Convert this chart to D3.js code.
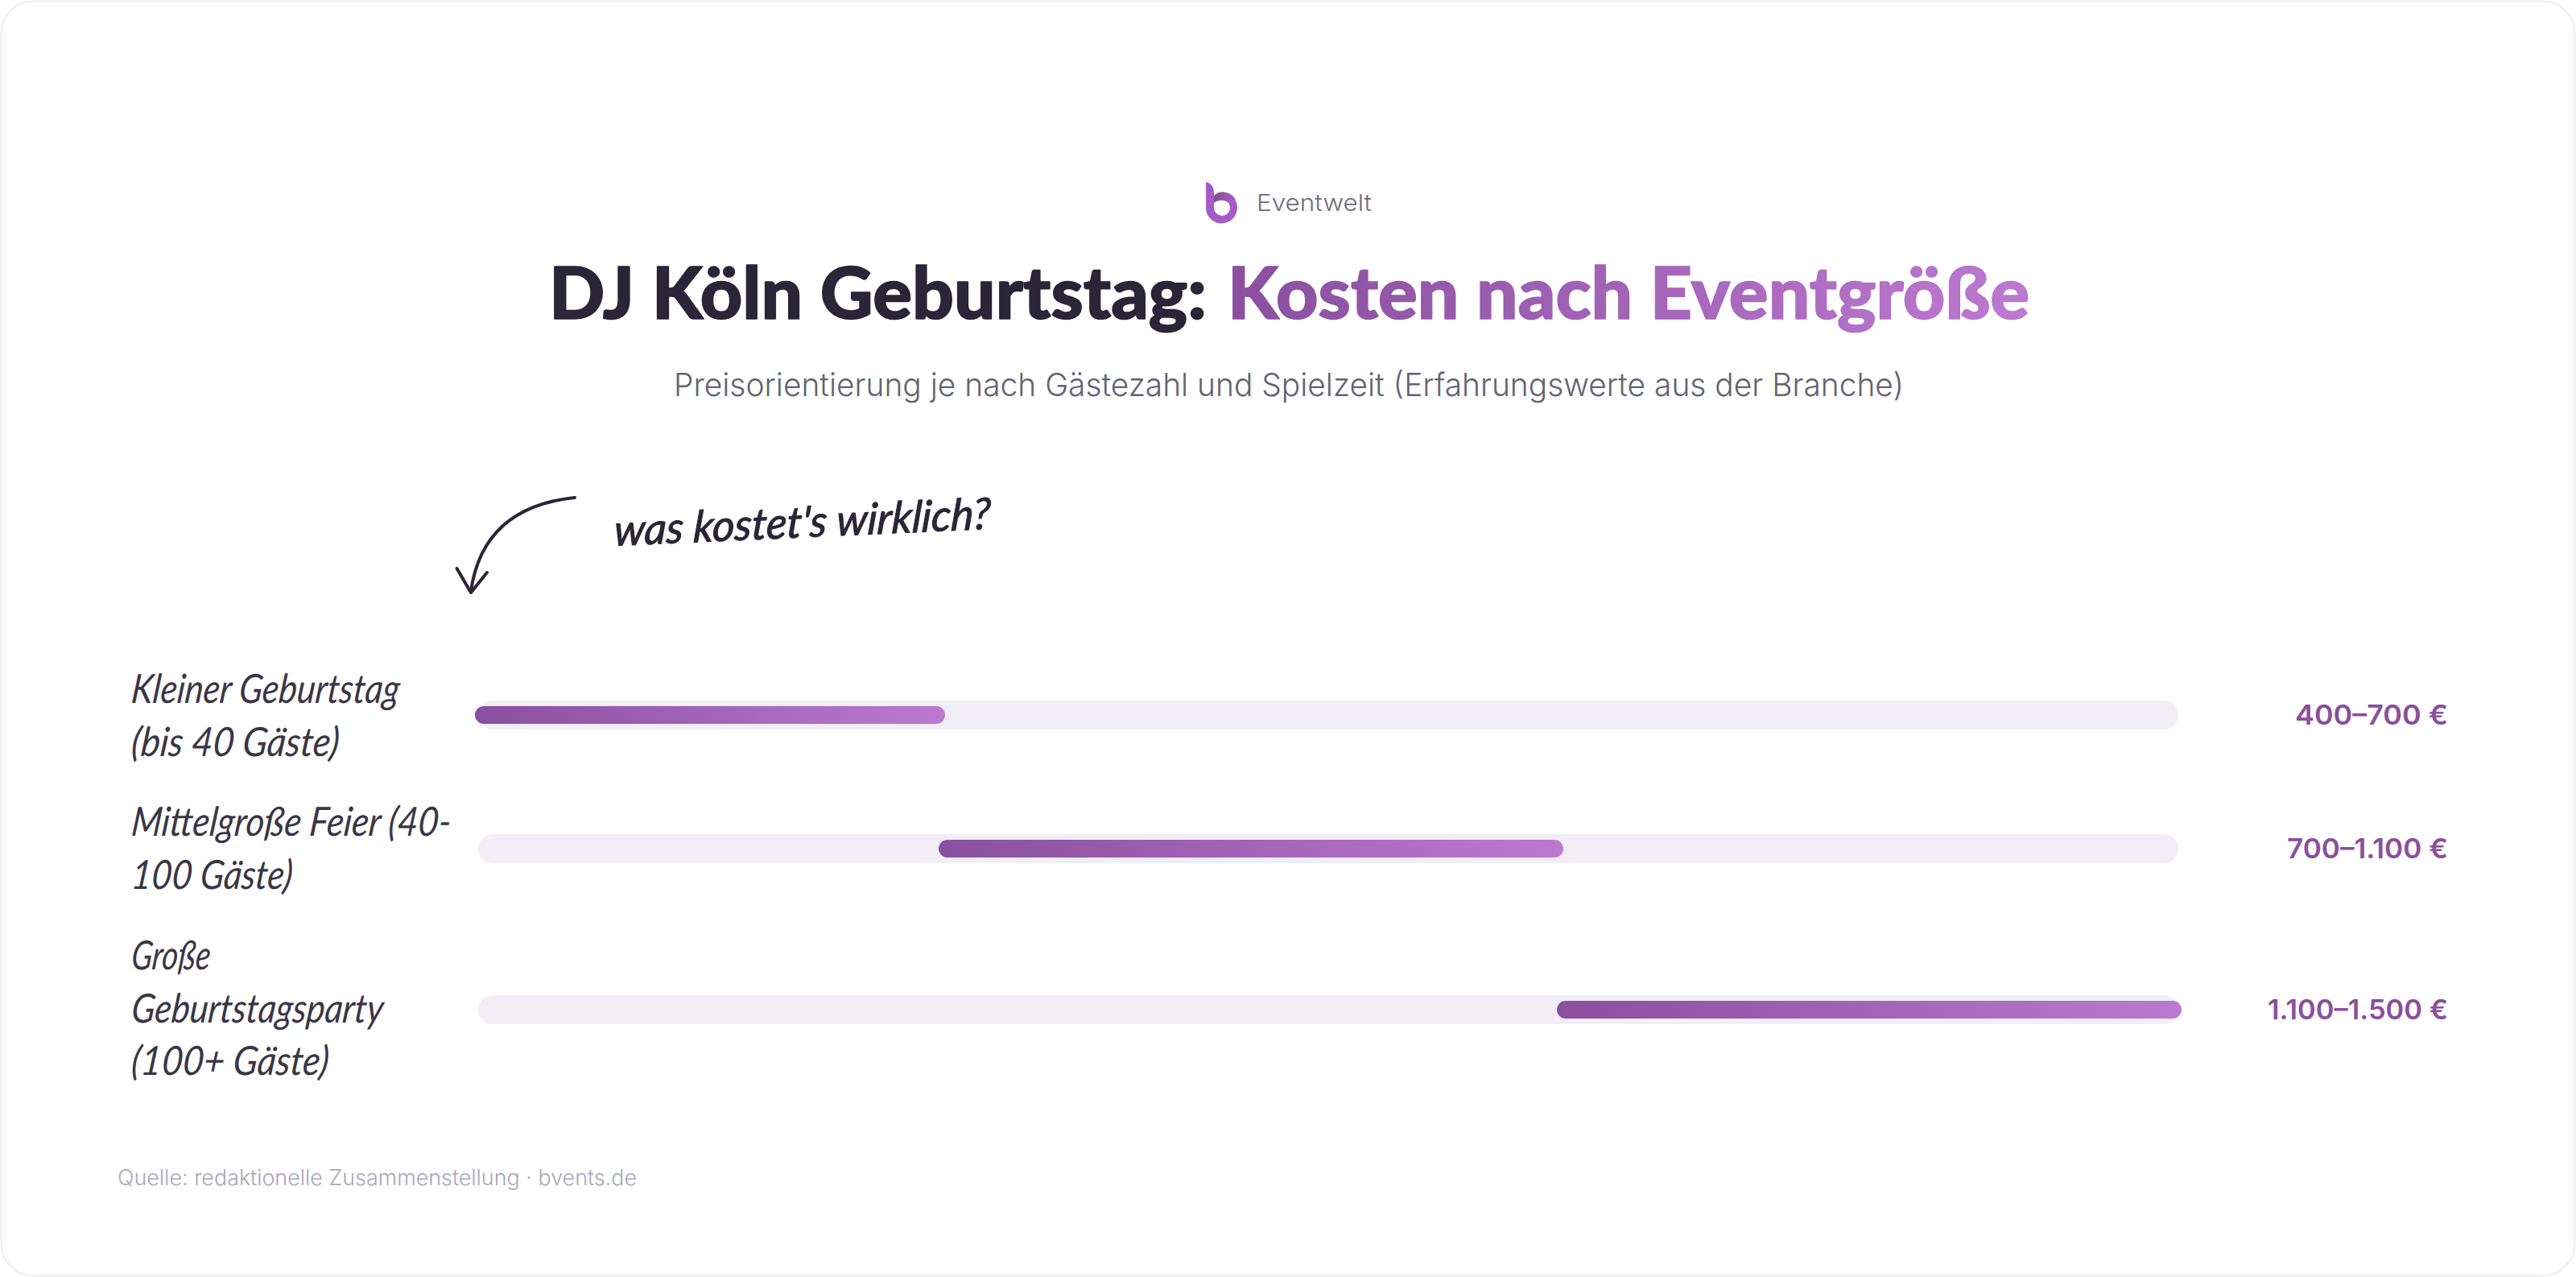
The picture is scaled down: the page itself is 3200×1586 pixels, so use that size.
<!DOCTYPE html>
<html lang="de"><head><meta charset="utf-8">
<script src="https://cdn.jsdelivr.net/npm/d3@7/dist/d3.min.js"></script>
<style>html,body{margin:0;padding:0;background:#fff}svg{display:block}</style>
</head><body><svg id="c"></svg>
<script>
// ---- data ----
const categories = ["Kleiner Geburtstag (bis 40 Gäste)", "Mittelgroße Feier (40-100 Gäste)", "Große Geburtstagsparty (100+ Gäste)"];
const categoryLines = [["Kleiner Geburtstag", "(bis 40 Gäste)"], ["Mittelgroße Feier (40-", "100 Gäste)"], ["Große", "Geburtstagsparty", "(100+ Gäste)"]];
const lowValues = [400, 700, 1100];
const highValues = [700, 1100, 1500];
const valueLabels = ["400–700 €", "700–1.100 €", "1.100–1.500 €"];
const titleDark = "DJ Köln Geburtstag:";
const titleAccent = "Kosten nach Eventgröße";
const subtitle = "Preisorientierung je nach Gästezahl und Spielzeit (Erfahrungswerte aus der Branche)";
const brand = "Eventwelt";
const note = "was kostet's wirklich?";
const source = "Quelle: redaktionelle Zusammenstellung · bvents.de";

// ---- layout ----
const W = 3200, H = 1586;
const hand = "Lato, 'Noto Sans', sans-serif", sans = "Inter, 'Noto Sans', sans-serif", head = "Lato, 'Noto Sans', sans-serif";
const x = d3.scaleLinear().domain([400, 1500]).range([594, 2706]);
const y = d3.scaleOrdinal().domain(categories).range([888, 1054, 1254]);
const purpleA = "#8a4f9e", purpleB = "#bc79d0", ink = "#2a2537";

const svg = d3.select("#c").attr("width", W).attr("height", H).attr("viewBox", `0 0 ${W} ${H}`);
const defs = svg.append("defs");

svg.append("rect").attr("x", 1.5).attr("y", 1.5).attr("width", W - 3).attr("height", H - 3).attr("rx", 40)
  .attr("fill", "#fff").attr("stroke", "#ecebf5").attr("stroke-width", 2);

function fit(t, len) { return t.attr("textLength", len).attr("lengthAdjust", "spacingAndGlyphs"); }

// logo
const logoGrad = defs.append("linearGradient").attr("id", "logoG").attr("x1", 0).attr("x2", 1).attr("y1", 0).attr("y2", 0);
logoGrad.append("stop").attr("offset", 0).attr("stop-color", "#84508f");
logoGrad.append("stop").attr("offset", 1).attr("stop-color", "#a65cc8");
const logo = svg.append("g");
logo.append("path").attr("fill", "#a45cc7").attr("fill-rule", "evenodd")
  .attr("d", "M1498 226 C1504 227 1508 232 1508 239 L1508 258 A10 10 0 1 0 1528 258 A10 10 0 0 0 1518 248 L1518 238.5 A19.5 19.5 0 1 1 1498 258 Z");
logo.append("path").attr("fill", "url(#logoG)")
  .attr("d", "M1508 243 C1511 240 1514 238.5 1518 238.5 C1525 238.5 1532 242 1535 248 C1530 249.5 1526 250 1524 250.5 C1521 248.5 1514 247.5 1508 252 Z");
fit(svg.append("text").attr("x", 1561).attr("y", 262).attr("font-family", sans).attr("font-weight", 300).attr("font-size", 29)
  .attr("fill", "#6d6c7c").text(brand), 143);

// title
const titleStroke = 1.6;
fit(svg.append("text").attr("x", 682).attr("y", 396).attr("font-family", head).attr("font-weight", 900).attr("font-size", 89)
  .attr("fill", ink).attr("stroke", ink).attr("stroke-width", titleStroke).attr("stroke-linejoin", "round").text(titleDark), 817);
const titleGrad = defs.append("linearGradient").attr("id", "titleG").attr("gradientUnits", "userSpaceOnUse")
  .attr("x1", 1528).attr("x2", 2521).attr("y1", 0).attr("y2", 0);
titleGrad.append("stop").attr("offset", 0).attr("stop-color", purpleA);
titleGrad.append("stop").attr("offset", 1).attr("stop-color", purpleB);
fit(svg.append("text").attr("x", 1525).attr("y", 396).attr("font-family", head).attr("font-weight", 900).attr("font-size", 89)
  .attr("fill", "url(#titleG)").attr("stroke", "url(#titleG)").attr("stroke-width", titleStroke).attr("stroke-linejoin", "round").text(titleAccent), 996);

fit(svg.append("text").attr("x", 837).attr("y", 492).attr("font-family", sans).attr("font-weight", 300).attr("font-size", 40)
  .attr("fill", "#646373").text(subtitle), 1528);

// note + arrow
fit(svg.append("text").attr("transform", "translate(762,678) rotate(-2.6) skewX(-6)").attr("font-family", hand)
  .attr("font-style", "italic").attr("font-weight", 400).attr("font-size", 54).attr("fill", ink)
  .attr("stroke", ink).attr("stroke-width", 1).text(note), 468);
const arrow = svg.append("g").attr("fill", "none").attr("stroke", ink).attr("stroke-width", 4).attr("stroke-linecap", "round").attr("stroke-linejoin", "round");
arrow.append("path").attr("d", "M714 618 Q600 630 585 734");
arrow.append("path").attr("d", "M567.5 706 L585 736 L605 711");

// rows
const rows = categories.map((c, i) => ({ c, lines: categoryLines[i], lo: lowValues[i], hi: highValues[i], v: valueLabels[i] }));
rows.forEach((r, i) => {
  const g = defs.append("linearGradient").attr("id", "bar" + i);
  g.append("stop").attr("offset", 0).attr("stop-color", purpleA);
  g.append("stop").attr("offset", 1).attr("stop-color", purpleB);
});
const barH = 36, fillH = 22, overhang = 4;
svg.append("g").selectAll("rect").data(rows).join("rect")
  .attr("x", x(400)).attr("width", x(1500) - x(400))
  .attr("y", d => y(d.c) - barH / 2).attr("height", barH).attr("rx", barH / 2).attr("fill", "#f1eef7");
svg.append("g").selectAll("rect").data(rows).join("rect")
  .attr("x", d => x(d.lo) - overhang).attr("width", d => x(d.hi) - x(d.lo) + 2 * overhang)
  .attr("y", d => y(d.c) - fillH / 2).attr("height", fillH).attr("rx", fillH / 2)
  .attr("fill", (d, i) => `url(#bar${i})`);
const valueWidths = [190, 200, 224];
svg.append("g").selectAll("text").data(rows).join("text")
  .attr("x", d => 3041 - valueWidths[rows.indexOf(d)]).attr("y", d => y(d.c) + 12)
  .attr("textLength", d => valueWidths[rows.indexOf(d)]).attr("lengthAdjust", "spacingAndGlyphs")
  .attr("font-family", sans).attr("font-weight", 600).attr("font-size", 34).attr("fill", purpleA).text(d => d.v);

const labelWidths = [[333, 258], [397, 200], [98, 313, 245]];
const labelBase = [873, 1038, 1204];
rows.forEach((r, i) => {
  r.lines.forEach((ln, j) => {
    fit(svg.append("text").attr("transform", `translate(162,${labelBase[i] + j * 65.5}) skewX(-6)`).attr("font-family", hand)
      .attr("font-style", "italic").attr("font-size", 50).attr("fill", "#3a3646").text(ln), labelWidths[i][j]);
  });
});

fit(svg.append("text").attr("x", 146).attr("y", 1472).attr("font-family", sans).attr("font-weight", 300).attr("font-size", 27)
  .attr("fill", "#a9a7b9").text(source), 645);
</script></body></html>
